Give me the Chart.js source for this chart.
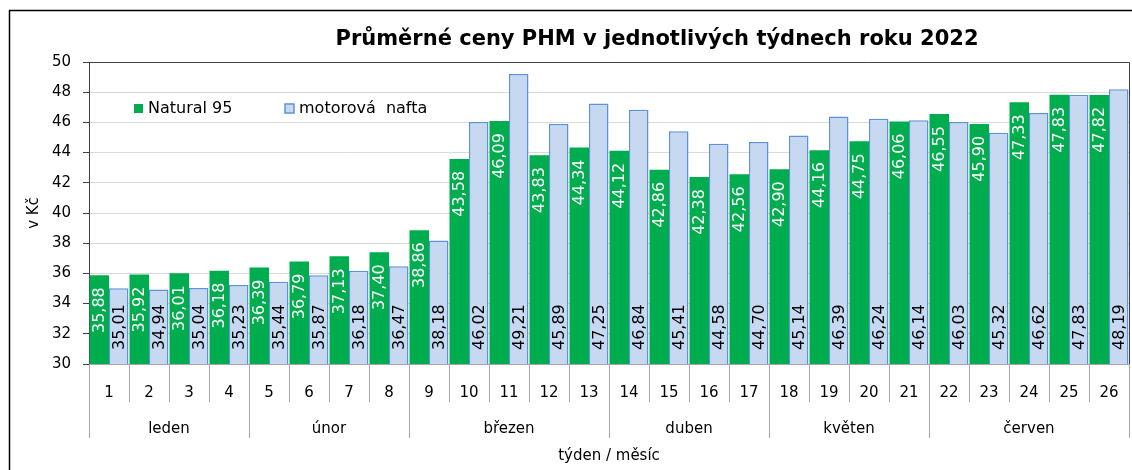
<!DOCTYPE html>
<html>
<head>
<meta charset="utf-8">
<script src="https://cdn.jsdelivr.net/npm/chart.js@4/dist/chart.umd.min.js"></script>
<style>
    html, body { margin: 0; padding: 0; background: #fff; }
    #chart { display: block; }
</style>
</head>
<body>
<canvas id="chart" width="1132" height="470"></canvas>
<script>
// data
const weeks = ['1','2','3','4','5','6','7','8','9','10','11','12','13','14','15','16','17','18','19','20','21','22','23','24','25','26'];
const natural95 = [35.88, 35.92, 36.01, 36.18, 36.39, 36.79, 37.13, 37.40, 38.86, 43.58, 46.09, 43.83, 44.34,
                   44.12, 42.86, 42.38, 42.56, 42.90, 44.16, 44.75, 46.06, 46.55, 45.90, 47.33, 47.83, 47.82];
const nafta = [35.01, 34.94, 35.04, 35.23, 35.44, 35.87, 36.18, 36.47, 38.18, 46.02, 49.21, 45.89, 47.25,
               46.84, 45.41, 44.58, 44.70, 45.14, 46.39, 46.24, 46.14, 46.03, 45.32, 46.62, 47.83, 48.19];
const months = ['leden', 'únor', 'březen', 'duben', 'květen', 'červen'];
const monthWeeks = [4, 4, 5, 4, 4, 5];

const titleText = 'Průměrné ceny PHM v jednotlivých týdnech roku 2022';
const yTitle = 'v Kč';
const xTitle = 'týden / měsíc';

const FONT = "'DejaVu Sans', Verdana, sans-serif";
const GREEN = '#00ad4e';
const BLUE_FILL = '#c6d9f1';
const BLUE_LINE = '#5e92d8';
const SEP = '#a6a6a6';

const fmt = v => v.toFixed(2).replace('.', ',');

// custom drawing: labels, legend, month row, titles
const decorPlugin = {
    id: 'decor',
    beforeDraw(chart) {
        const ctx = chart.ctx;
        ctx.save();
        ctx.fillStyle = '#fff';
        ctx.fillRect(0, 0, chart.width, chart.height);
        ctx.restore();
    },
    afterDatasetsDraw(chart) {
        const ctx = chart.ctx;
        const bottom = chart.chartArea.bottom;
        ctx.save();
        ctx.font = '16px ' + FONT;
        ctx.textBaseline = 'middle';
        chart.data.datasets.forEach((ds, i) => {
            const meta = chart.getDatasetMeta(i);
            meta.data.forEach((bar, j) => {
                const txt = fmt(ds.data[j]);
                ctx.save();
                if (i === 0) {
                    // inside end
                    ctx.translate(bar.x, bar.y + 12);
                    ctx.rotate(-Math.PI / 2);
                    ctx.fillStyle = '#fff';
                    ctx.textAlign = 'right';
                } else {
                    // inside base
                    ctx.translate(bar.x, bottom - 14);
                    ctx.rotate(-Math.PI / 2);
                    ctx.fillStyle = '#000';
                    ctx.textAlign = 'left';
                }
                ctx.fillText(txt, 0, 1);
                ctx.restore();
            });
        });
        ctx.restore();
    },
    afterDraw(chart) {
        const ctx = chart.ctx;
        const area = chart.chartArea;
        const xs = chart.scales.x;
        const step = (area.right - area.left) / weeks.length;

        ctx.save();

        // outer frame
        ctx.strokeStyle = '#000';
        ctx.lineWidth = 1.5;
        ctx.beginPath();
        ctx.moveTo(9.5, chart.height + 2);
        ctx.lineTo(9.5, 10.5);
        ctx.lineTo(chart.width + 2, 10.5);
        ctx.stroke();

        // plot frame top/right
        ctx.strokeStyle = '#404040';
        ctx.lineWidth = 1;
        ctx.beginPath();
        ctx.moveTo(area.left, area.top + 0.5);
        ctx.lineTo(area.right + 0.5, area.top + 0.5);
        ctx.lineTo(area.right + 0.5, area.bottom);
        ctx.stroke();

        // week and month separators
        ctx.strokeStyle = SEP;
        let boundaries = new Set([0]);
        let acc = 0;
        monthWeeks.forEach(n => { acc += n; boundaries.add(acc); });
        for (let k = 0; k <= weeks.length; k++) {
            const x = Math.round(area.left + k * step) + 0.5;
            ctx.beginPath();
            ctx.moveTo(x, area.bottom);
            ctx.lineTo(x, boundaries.has(k) ? area.bottom + 74 : area.bottom + 38);
            ctx.stroke();
        }

        // month labels
        ctx.fillStyle = '#000';
        ctx.font = '15px ' + FONT;
        ctx.textAlign = 'center';
        ctx.textBaseline = 'middle';
        let start = 0;
        months.forEach((m, i) => {
            const a = xs.getPixelForValue(start);
            const b = xs.getPixelForValue(start + monthWeeks[i] - 1);
            ctx.fillText(m, (a + b) / 2, area.bottom + 65);
            start += monthWeeks[i];
        });

        // axis titles
        ctx.fillText(xTitle, (area.left + area.right) / 2, area.bottom + 92);
        ctx.save();
        ctx.translate(34, (area.top + area.bottom) / 2);
        ctx.rotate(-Math.PI / 2);
        ctx.fillText(yTitle, 0, 0);
        ctx.restore();

        // chart title
        ctx.font = 'bold 21px ' + FONT;
        ctx.fillText(titleText, 657, 40);

        // legend
        ctx.font = '16px ' + FONT;
        ctx.textAlign = 'left';
        const legendX = [134, 285];
        chart.data.datasets.forEach((ds, i) => {
            const lx = legendX[i];
            const ly = 104;
            ctx.fillStyle = ds.backgroundColor;
            ctx.fillRect(lx, ly, 9, 9);
            if (ds.borderWidth) {
                ctx.strokeStyle = ds.borderColor;
                ctx.lineWidth = 1.5;
                ctx.strokeRect(lx, ly, 9, 9);
            }
            ctx.fillStyle = '#000';
            ctx.fillText(ds.label, lx + 14, ly + 5);
        });

        ctx.restore();
    }
};

new Chart(document.getElementById('chart'), {
    type: 'bar',
    data: {
        labels: weeks,
        datasets: [
            {
                label: 'Natural 95',
                data: natural95,
                backgroundColor: GREEN,
                borderWidth: 0
            },
            {
                label: 'motorová  nafta',
                data: nafta,
                backgroundColor: BLUE_FILL,
                borderColor: BLUE_LINE,
                borderWidth: 1.5,
                borderSkipped: false
            }
        ]
    },
    options: {
        responsive: false,
        animation: false,
        layout: { padding: { top: 62, right: 3, bottom: 0, left: 29 } },
        plugins: {
            legend: { display: false },
            title: { display: false },
            tooltip: { enabled: false }
        },
        datasets: {
            bar: { categoryPercentage: 0.975, barPercentage: 1.0 }
        },
        scales: {
            x: {
                afterFit: scale => {
                    scale.height = 106;
                    scale.paddingLeft = 0;
                    scale.paddingRight = 0;
                },
                grid: { drawOnChartArea: false, drawTicks: false },
                border: { color: SEP },
                ticks: {
                    color: '#000',
                    font: { family: FONT, size: 15 },
                    padding: 20,
                    maxRotation: 0
                }
            },
            y: {
                min: 30,
                max: 50,
                afterFit: scale => { scale.width = 60; },
                grid: { color: '#d9d9d9', tickLength: 6, tickColor: '#404040' },
                border: { color: '#404040' },
                ticks: {
                    stepSize: 2,
                    color: '#000',
                    padding: 12,
                    font: { family: FONT, size: 15 }
                }
            }
        }
    },
    plugins: [decorPlugin]
});
</script>
</body>
</html>
